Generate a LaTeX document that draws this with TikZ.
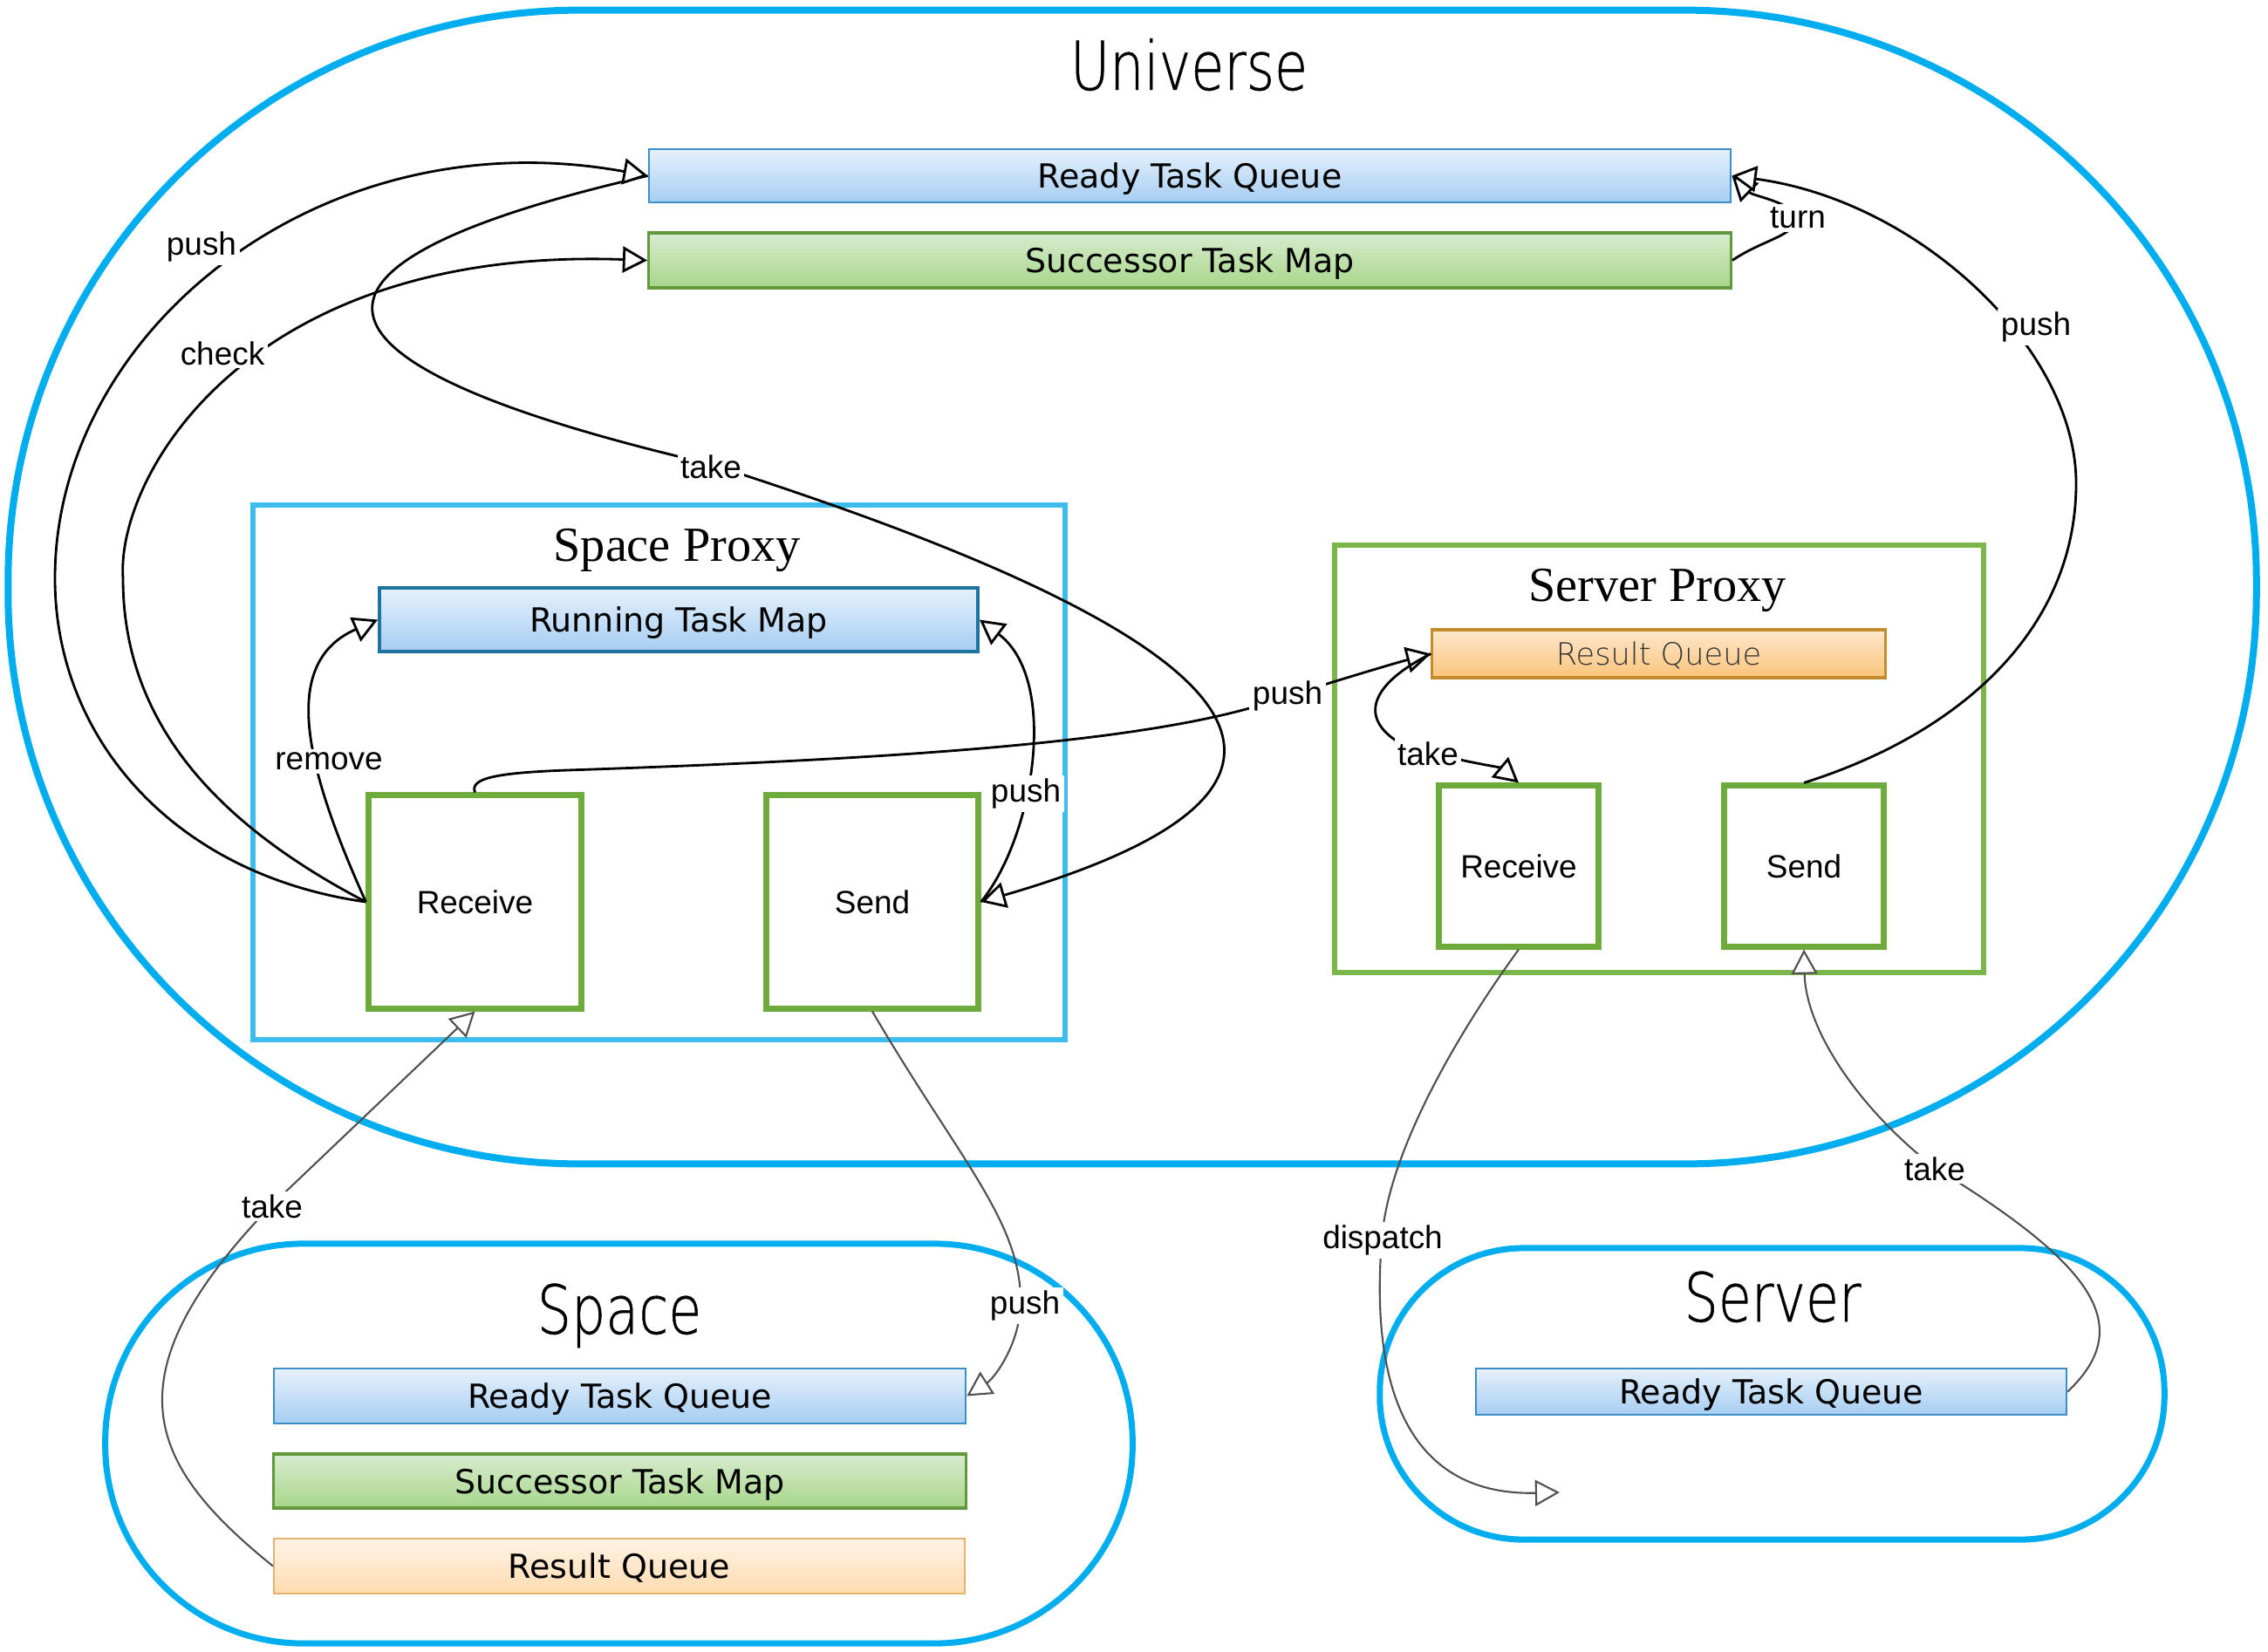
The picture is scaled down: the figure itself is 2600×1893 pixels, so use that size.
\documentclass[tikz,border=0pt]{standalone}
\usepackage{fontspec}
\setmainfont{Liberation Sans}
\newfontfamily\boxfont{DejaVu Sans}
\newfontfamily\titlefont{Liberation Serif}
\newfontfamily\handfont{DejaVuSans-ExtraLight.ttf}[FakeStretch=0.8,FakeBold=0.6]
\newfontfamily\thinfont{DejaVuSans-ExtraLight.ttf}
\usetikzlibrary{arrows.meta}
\definecolor{ublue}{HTML}{00ADEF}
\definecolor{pblue}{HTML}{3CBDEE}
\definecolor{pgreen}{HTML}{7BB64A}
\definecolor{bgreen}{HTML}{6DAB3C}
\definecolor{qbT}{HTML}{E6F1FC}
\definecolor{qbB}{HTML}{A6CDF2}
\definecolor{qbD}{HTML}{3A8FC8}
\definecolor{rtD}{HTML}{1E74A0}
\definecolor{sgT}{HTML}{D8ECCF}
\definecolor{sgB}{HTML}{A7D68A}
\definecolor{sgD}{HTML}{62993D}
\definecolor{roT}{HTML}{FDE7CC}
\definecolor{roB}{HTML}{FBC47B}
\definecolor{roD}{HTML}{C48B2A}
\definecolor{loT}{HTML}{FFF3E6}
\definecolor{loB}{HTML}{FEDCB0}
\definecolor{loD}{HTML}{E2B36C}
\definecolor{gline}{HTML}{505050}
\tikzset{
  container/.style={draw=ublue, line width=0.07cm, inner sep=0pt},
  proxy/.style={line width=0.06cm, inner sep=0pt},
  worker/.style={draw=bgreen, line width=0.07cm, inner sep=0pt, text depth=0pt, font=\fontsize{10.5pt}{12pt}\selectfont},
  queue/.style={inner sep=0pt, text depth=0pt, font=\boxfont\fontsize{10.8pt}{12pt}\selectfont},
  bluebox/.style={queue, draw=qbD, line width=0.6pt, top color=qbT, bottom color=qbB},
  runbox/.style={queue, draw=rtD, line width=1pt, top color=qbT, bottom color=qbB},
  greenbox/.style={queue, draw=sgD, line width=0.9pt, top color=sgT, bottom color=sgB},
  orangebox/.style={queue, draw=roD, line width=0.9pt, top color=roT, bottom color=roB},
  lorangebox/.style={queue, draw=loD, line width=0.5pt, top color=loT, bottom color=loB},
  handtitle/.style={font=\handfont\fontsize{22pt}{26pt}\selectfont, anchor=base, inner sep=0pt},
  sertitle/.style={font=\titlefont\fontsize{16pt}{19pt}\selectfont, anchor=base, inner sep=0pt},
  conn/.style={line width=0.8pt, draw=black},
  gconn/.style={line width=0.6pt, draw=gline},
  tip/.style={-{Triangle[open, fill=white, length=8pt, width=8.5pt]}},
  lbl/.style={fill=white, inner sep=1pt, font=\fontsize{10.5pt}{12pt}\selectfont}
}
\begin{document}
\begin{tikzpicture}[x=0.01cm,y=-0.01cm]
\useasboundingbox (0,0) rectangle (2600,1893);
% containers
\node[container, line width=0.08cm, minimum width=25.76cm, minimum height=13.22cm, rounded corners=6.55cm] (universe) at (1298,673) {};
\node[container, minimum width=11.77cm, minimum height=4.58cm, rounded corners=2.27cm] (space) at (709.5,1655) {};
\node[container, minimum width=8.99cm, minimum height=3.34cm, rounded corners=1.65cm] (server) at (2031.5,1598) {};
\node[proxy, draw=pblue, minimum width=9.31cm, minimum height=6.13cm] (sproxy) at (755.5,885.5) {};
\node[proxy, draw=pgreen, minimum width=7.44cm, minimum height=4.90cm] (vproxy) at (1902,870) {};
% titles
\node[handtitle] (tuniv) at (1363,103) {Universe};
\node[handtitle] (tspace) at (710,1529) {Space};
\node[handtitle] (tserver) at (2032,1515) {Server};
\node[sertitle] (tsproxy) at (776,643) {Space Proxy};
\node[sertitle] (tvproxy) at (1900,689) {Server Proxy};
% universe queues
\node[bluebox, minimum width=12.40cm, minimum height=0.61cm] (urtq) at (1364,201.5) {Ready Task Queue};
\node[greenbox, minimum width=12.40cm, minimum height=0.63cm] (usucc) at (1364,298.5) {Successor Task Map};
% space proxy
\node[runbox, minimum width=6.86cm, minimum height=0.73cm] (runtm) at (778,710.5) {Running Task Map};
\node[worker, minimum width=2.43cm, minimum height=2.44cm] (recvA) at (544.5,1034) {Receive};
\node[worker, minimum width=2.42cm, minimum height=2.44cm] (sendA) at (1000,1034) {Send};
% server proxy
\node[orangebox, minimum width=5.19cm, minimum height=0.55cm, font=\thinfont\fontsize{10pt}{12pt}\selectfont, text=black!80] (rq) at (1901.5,749.5) {Result Queue};
\node[worker, minimum width=1.82cm, minimum height=1.84cm] (srecv) at (1741,993) {Receive};
\node[worker, minimum width=1.82cm, minimum height=1.84cm] (ssend) at (2068,993) {Send};
% space
\node[bluebox, minimum width=7.93cm, minimum height=0.63cm] (srtq) at (710.5,1600.5) {Ready Task Queue};
\node[greenbox, minimum width=7.93cm, minimum height=0.62cm] (ssucc) at (710.5,1698) {Successor Task Map};
\node[lorangebox, minimum width=7.92cm, minimum height=0.63cm] (srq) at (710,1795.5) {Result Queue};
% server
\node[bluebox, minimum width=6.77cm, minimum height=0.53cm] (vrtq) at (2030.5,1595.5) {Ready Task Queue};
\coordinate (dispend) at (1788,1711);
% connectors
\draw[conn,tip] (urtq.west) .. controls (249,315) and (381,431) .. (814,532) .. controls (1327,696) and (1658,879) .. (sendA.east);
\draw[conn,tip] (recvA.west) .. controls (199,1003) and (63,846) .. (63,663) .. controls (63,381) and (365,133) .. (urtq.west);
\draw[conn,tip] (recvA.west) .. controls (249,945) and (141,829) .. (141,663) .. controls (133,547) and (282,282) .. (usucc.west);
\draw[conn,tip] (recvA.west) .. controls (350,880) and (320,760) .. (runtm.west);
\draw[conn,tip] (sendA.east) .. controls (1185,960) and (1215,780) .. (runtm.east);
\draw[conn,tip] (recvA.north) .. controls (538,892) and (570,886) .. (650,883) .. controls (1100,868) and (1350,845) .. (1476,798) .. controls (1540,778) and (1600,760) .. (rq.west);
\draw[conn,tip] (rq.west) .. controls (1570,785) and (1555,825) .. (1610,855) .. controls (1660,870) and (1720,880) .. (srecv.north);
\draw[conn,tip] (usucc.east) .. controls (2020,275) and (2060,270) .. (2058,250) .. controls (2056,232) and (2010,225) .. (urtq.east);
\draw[conn,tip] (ssend.north) .. controls (2250,840) and (2380,720) .. (2380,554) .. controls (2380,400) and (2200,230) .. (urtq.east);
\draw[gconn,tip] (srq.west) .. controls (170,1680) and (120,1580) .. (311,1382) -- (recvA.south);
\draw[gconn,tip] (sendA.south) .. controls (1100,1330) and (1170,1400) .. (1170,1492) .. controls (1170,1540) and (1140,1580) .. (srtq.east);
\draw[gconn,tip] (srecv.south) .. controls (1660,1200) and (1590,1330) .. (1584,1422) .. controls (1570,1600) and (1620,1715) .. (dispend);
\draw[gconn,tip] (vrtq.east) .. controls (2450,1520) and (2400,1450) .. (2217,1338) .. controls (2130,1270) and (2070,1180) .. (ssend.south);
% labels
\node[lbl] (l1) at (231,283) {push};
\node[lbl] (l2) at (255,405) {check};
\node[lbl] (l3) at (815,535) {take};
\node[lbl] (l4) at (377,873) {remove};
\node[lbl] (l5) at (1176,910) {push};
\node[lbl] (l6) at (1476,798) {push};
\node[lbl] (l7) at (1637,864) {take};
\node[lbl] (l8) at (2061,250) {turn};
\node[lbl] (l9) at (2334,375) {push};
\node[lbl] (l10) at (312,1383) {take};
\node[lbl] (l11) at (1175,1497) {push};
\node[lbl] (l12) at (1585,1422) {dispatch};
\node[lbl] (l13) at (2218,1340) {take};
\end{tikzpicture}
\end{document}
